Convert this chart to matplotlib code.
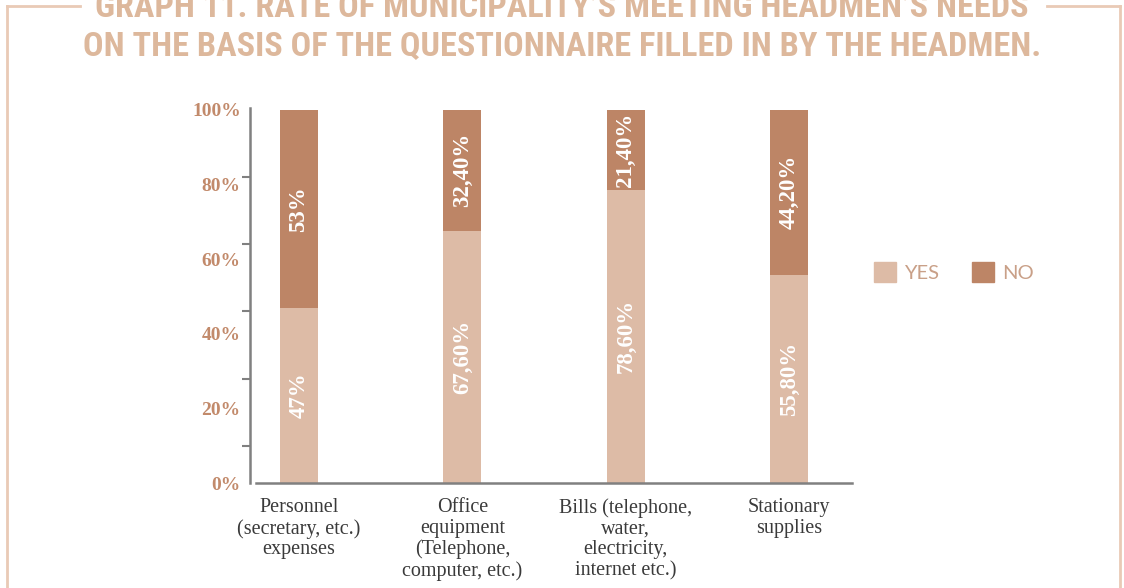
import matplotlib
matplotlib.use("Agg")
from matplotlib import pyplot as plt
from matplotlib import font_manager
from matplotlib.lines import Line2D
from matplotlib.patches import Rectangle
import numpy as np

categories = [
    "Personnel\n(secretary, etc.)\nexpenses",
    "Office\nequipment\n(Telephone,\ncomputer, etc.)",
    "Bills (telephone,\nwater,\nelectricity,\ninternet etc.)",
    "Stationary\nsupplies",
]
yes_values = [47.0, 67.6, 78.6, 55.8]
no_values = [53.0, 32.4, 21.4, 44.2]
yes_labels = ["47%", "67,60%", "78,60%", "55,80%"]
no_labels = ["53%", "32,40%", "21,40%", "44,20%"]
tick_values = [0, 20, 40, 60, 80, 100]
title_lines = [
    "GRAPH 11. RATE OF MUNICIPALITY\u2019S MEETING HEADMEN\u2019S NEEDS",
    "ON THE BASIS OF THE QUESTIONNAIRE FILLED IN BY THE HEADMEN.",
]

YES_COLOR = "#DDBBA6"
NO_COLOR = "#BD8566"
TICK_COLOR = "#C28A6B"
TITLE_COLOR = "#DDB89C"
FRAME_COLOR = "#E9CAB6"


def pick_condensed_bold():
    # prefer a narrow bold face for the heading
    files = [f.fname for f in font_manager.fontManager.ttflist]
    for key in ["RobotoCondensed-Bold", "SansNarrow-Bold", "SansCondensed-Bold",
                "Condensed-Bold", "Narrow-Bold"]:
        for fn in files:
            if key in fn.replace(" ", ""):
                return font_manager.FontProperties(fname=fn)
    return font_manager.FontProperties(family="DejaVu Sans", weight="bold")


title_prop = pick_condensed_bold()
serif = "Liberation Serif"

W, H = 1124, 588
fig = plt.figure(figsize=(W / 100, H / 100), dpi=100)

# plot area in pixel terms
x0, x1 = 256, 852
y_bottom, y_top = 483, 108
ax = fig.add_axes([x0 / W, 1 - y_bottom / H, (x1 - x0) / W, (y_bottom - y_top) / H])

x = np.arange(len(categories))
width = 0.232
ax.bar(x, yes_values, width, color=YES_COLOR, label="YES", zorder=2)
ax.bar(x, no_values, width, bottom=yes_values, color=NO_COLOR, label="NO", zorder=2)

for i in range(len(categories)):
    ax.text(x[i], yes_values[i] / 2, yes_labels[i], rotation=90, ha="center", va="center",
            color="white", fontsize=16.5, fontweight="bold", family=serif)
    ax.text(x[i], yes_values[i] + no_values[i] / 2, no_labels[i], rotation=90, ha="center",
            va="center", color="white", fontsize=16.5, fontweight="bold", family=serif)

ax.set_xlim(-0.263, 3.385)
ax.set_ylim(0, 100.5)

for side in ["top", "right"]:
    ax.spines[side].set_visible(False)
ax.spines["left"].set_position(("outward", 4))
ax.spines["left"].set_color("#808080")
ax.spines["bottom"].set_color("#808080")
ax.spines["left"].set_linewidth(1.8)
ax.spines["bottom"].set_linewidth(1.8)

# percentage labels without marks, tick marks on their own grid
ax.set_yticks(tick_values)
ax.set_yticklabels([f"{v}%" for v in tick_values], color=TICK_COLOR, fontsize=14,
                   fontweight="bold", family=serif)
ax.tick_params(axis="y", which="major", length=0, pad=7)
ax.set_yticks([10, 28, 46, 64, 82, 100], minor=True)
ax.tick_params(axis="y", which="minor", length=6, width=1.5, color="#808080")

ax.set_xticks(x)
ax.set_xticklabels(categories, fontsize=14.5, color="#3A3A3A", family=serif, linespacing=1.12)
ax.tick_params(axis="x", length=0, pad=11)

# legend
handles = [Rectangle((0, 0), 1, 1, color=YES_COLOR), Rectangle((0, 0), 1, 1, color=NO_COLOR)]
fig.legend(handles, ["YES", "NO"], loc="center left", bbox_to_anchor=(856 / W, 1 - 272 / H),
           ncol=2, frameon=False, handlelength=1.1, handleheight=1.1, columnspacing=1.6,
           handletextpad=0.4, prop={"family": "Lato", "size": 14.5},
           labelcolor="#C9A088")

# title, sized so the second line spans roughly 83..1045 px
title_texts = []
for yy, line in zip([8, 46], title_lines):
    t = fig.text(0.5, 1 - yy / H, line, ha="center", va="center", color=TITLE_COLOR,
                 fontproperties=title_prop.copy())
    t.set_fontsize(24)
    title_texts.append(t)
renderer = fig.canvas.get_renderer()
w2 = title_texts[1].get_window_extent(renderer).width
size = min(26.0, 24 * 962 / w2)
for t in title_texts:
    t.set_fontsize(size)

# page frame around the chart
frame = dict(color=FRAME_COLOR, linewidth=2, transform=fig.transFigure)
fig.add_artist(Line2D([7 / W, 80 / W], [1 - 6 / H, 1 - 6 / H], **frame))
fig.add_artist(Line2D([7 / W, 7 / W], [1 - 6 / H, 0], **frame))
fig.add_artist(Line2D([1047 / W, 1120 / W], [1 - 6 / H, 1 - 6 / H], **frame))
fig.add_artist(Line2D([1120 / W, 1120 / W], [1 - 6 / H, 0], **frame))

fig.savefig("out.png", dpi=100)
